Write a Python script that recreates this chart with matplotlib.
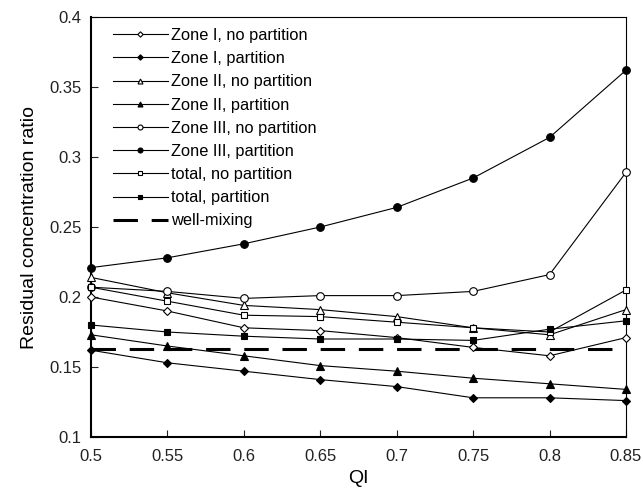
import matplotlib

matplotlib.use("Agg")
import matplotlib.pyplot as plt

plt.rcParams["font.family"] = ["Liberation Sans", "DejaVu Sans"]

# QI values on the x axis
qi = [0.5, 0.55, 0.6, 0.65, 0.7, 0.75, 0.8, 0.85]

# residual concentration ratio
zone1_nopart = [0.200, 0.190, 0.178, 0.176, 0.171, 0.164, 0.158, 0.171]
zone1_part = [0.162, 0.153, 0.147, 0.141, 0.136, 0.128, 0.128, 0.126]
zone2_nopart = [0.214, 0.203, 0.194, 0.191, 0.186, 0.178, 0.173, 0.191]
zone2_part = [0.173, 0.165, 0.158, 0.151, 0.147, 0.142, 0.138, 0.134]
zone3_nopart = [0.207, 0.204, 0.199, 0.201, 0.201, 0.204, 0.216, 0.289]
zone3_part = [0.221, 0.228, 0.238, 0.250, 0.264, 0.285, 0.314, 0.362]
total_nopart = [0.207, 0.197, 0.187, 0.186, 0.182, 0.178, 0.175, 0.205]
total_part = [0.180, 0.175, 0.172, 0.170, 0.170, 0.169, 0.177, 0.183]
well_mixing = [0.163] * len(qi)

series = [
    ("Zone I, no partition", zone1_nopart, "D", "white", 4.2),
    ("Zone I, partition", zone1_part, "D", "black", 4.2),
    ("Zone II, no partition", zone2_nopart, "^", "white", 5.5),
    ("Zone II, partition", zone2_part, "^", "black", 5.5),
    ("Zone III, no partition", zone3_nopart, "o", "white", 5.5),
    ("Zone III, partition", zone3_part, "o", "black", 5.5),
    ("total, no partition", total_nopart, "s", "white", 5),
    ("total, partition", total_part, "s", "black", 5),
]

fig = plt.figure(figsize=(6.43, 4.92), dpi=100)
ax = fig.add_axes([0.1415, 0.1118, 0.832, 0.8536])

for label, vals, marker, face, size in series:
    ax.plot(
        qi,
        vals,
        color="black",
        linewidth=0.8,
        marker=marker,
        markersize=size,
        markerfacecolor=face,
        markeredgecolor="black",
        markeredgewidth=0.8,
        label=label,
        clip_on=False,
        zorder=3,
    )

ax.plot(
    qi,
    well_mixing,
    color="black",
    linewidth=2.2,
    linestyle=(0, (8, 4.5)),
    label="well-mixing",
    zorder=2,
)

ax.set_xlim(0.5, 0.85)
ax.set_ylim(0.1, 0.4)
ax.set_xticks(qi)
ax.set_xticklabels(["0.5", "0.55", "0.6", "0.65", "0.7", "0.75", "0.8", "0.85"])
ax.set_yticks([0.1, 0.15, 0.2, 0.25, 0.3, 0.35, 0.4])
ax.set_yticklabels(["0.1", "0.15", "0.2", "0.25", "0.3", "0.35", "0.4"])
ax.tick_params(direction="in", length=5, width=0.8, labelsize=12, pad=7,
               colors="#222222")
ax.tick_params(axis="x", pad=9)
for side in ["left", "bottom"]:
    ax.spines[side].set_linewidth(1.5)
for side in ["right", "top"]:
    ax.spines[side].set_linewidth(0.8)

ax.set_xlabel("QI", fontsize=14, labelpad=4)
ax.set_ylabel("Residual concentration ratio", fontsize=14, labelpad=8)

ax.legend(
    loc="upper left",
    bbox_to_anchor=(0.041, 0.974),
    frameon=False,
    fontsize=11.8,
    handlelength=3.35,
    handletextpad=0.2,
    labelspacing=0.5,
    markerscale=0.65,
    borderpad=0,
    borderaxespad=0,
)

fig.savefig("out.png", dpi=100)
